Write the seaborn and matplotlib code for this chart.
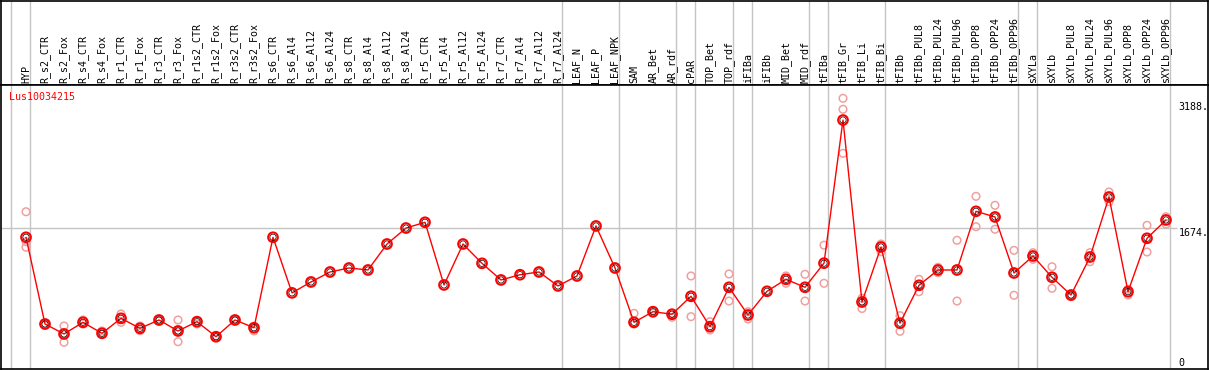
import numpy as np
import pandas as pd
import matplotlib
matplotlib.use("Agg")
import matplotlib.pyplot as plt
import seaborn as sns

categories = ["HYP", "R_s2_CTR", "R_s2_Fox", "R_s4_CTR", "R_s4_Fox", "R_r1_CTR", "R_r1_Fox",
              "R_r3_CTR", "R_r3_Fox", "R_r1s2_CTR", "R_r1s2_Fox", "R_r3s2_CTR", "R_r3s2_Fox",
              "R_s6_CTR", "R_s6_Al4", "R_s6_Al12", "R_s6_Al24", "R_s8_CTR", "R_s8_Al4", "R_s8_Al12",
              "R_s8_Al24", "R_r5_CTR", "R_r5_Al4", "R_r5_Al12", "R_r5_Al24", "R_r7_CTR", "R_r7_Al4",
              "R_r7_Al12", "R_r7_Al24", "LEAF_N", "LEAF_P", "LEAF_NPK", "SAM", "AR_Bet", "AR_rdf",
              "cPAR", "TOP_Bet", "TOP_rdf", "iFIBa", "iFIBb", "MID_Bet", "MID_rdf", "tFIBa",
              "tFIB_Gr", "tFIB_Li", "tFIB_Bi", "tFIBb", "tFIBb_PUL8", "tFIBb_PUL24", "tFIBb_PUL96",
              "tFIBb_OPP8", "tFIBb_OPP24", "tFIBb_OPP96", "sXYLa", "sXYLb", "sXYLb_PUL8",
              "sXYLb_PUL24", "sXYLb_PUL96", "sXYLb_OPP8", "sXYLb_OPP24", "sXYLb_OPP96"]

mean_values = [1566, 524, 404, 544, 412, 592, 472, 572, 440, 552, 371, 572, 479,
               1566, 898, 1029, 1149, 1197, 1173, 1485, 1677, 1746, 993, 1485, 1253,
               1053, 1116, 1149, 981, 1101, 1702, 1197, 544, 672, 641, 857, 492, 965,
               632, 917, 1061, 965, 1255, 2975, 788, 1449, 534, 989, 1173, 1173, 1878,
               1810, 1137, 1341, 1085, 872, 1329, 2050, 912, 1554, 1774]

nan = np.nan
rep_a = [1873, 524, 500, 572, 440, 644, 500, 572, 572, 563, 380, 580, 472,
         nan, nan, nan, nan, nan, nan, nan, nan, nan, nan, nan, nan,
         nan, nan, nan, nan, nan, nan, nan, 652, 684, 652, 1101, 552, 1125,
         672, nan, 1101, 1121, 1471, 3236, 833, 1485, 624, 1061, 1205, 1530, 2058,
         1950, 1409, 1381, 1212, 852, 1381, 2110, 941, 1710, 1813]
rep_b = [1513, 508, 404, 524, 404, 544, 443, 560, 440, 524, 361, 563, 440,
         nan, nan, nan, nan, nan, nan, nan, nan, nan, nan, nan, nan,
         nan, nan, nan, nan, nan, nan, nan, 524, 652, 604, 612, 452, 800,
         584, nan, 1013, 800, 1013, 3104, 800, 1393, 436, 912, 1140, 800, 1693,
         1662, 869, 1301, 953, 872, 1272, 1993, 872, 1389, 1725]
rep_c = [1446, nan, 304, nan, nan, nan, nan, nan, 311, nan, nan, nan, nan,
         nan, nan, nan, nan, nan, nan, nan, nan, nan, nan, nan, nan,
         nan, nan, nan, nan, nan, nan, nan, nan, nan, nan, nan, nan, nan,
         nan, nan, nan, nan, nan, 2575, 710, nan, nan, nan, nan, nan, nan,
         nan, nan, nan, nan, nan, nan, nan, nan, nan, nan]

separators = [0, 1, 29, 32, 35, 36, 38, 39, 42, 43, 46, 53, 54, 61]
ref_value = 1674
axis_values = [3188, 1674, 0]
axis_labels = ["3188.", "1674.", "0"]
gene_name = "Lus10034215"

sns.set_style("white")
plt.rcParams["font.family"] = ["DejaVu Sans Mono", "DejaVu Sans"]

W, H = 1209, 370
fig = plt.figure(figsize=(W / 100, H / 100), dpi=100)
ax_lab = fig.add_axes([1 / W, (H - 85) / H, 1207 / W, 84.5 / H])
ax = fig.add_axes([1 / W, (H - 369) / H, 1207 / W, 284 / H], sharex=ax_lab)

xpos = np.arange(len(categories))
means_df = pd.DataFrame({"x": xpos, "value": mean_values})
reps_df = pd.DataFrame({"x": np.concatenate([xpos, xpos, xpos]),
                        "value": np.concatenate([rep_a, rep_b, rep_c])}).dropna()

xmin, xmax = (1 - 26) / 19, (1208 - 26) / 19
ax.set_xlim(xmin, xmax)
ax.set_ylim(-17, 3396)
ax_lab.set_ylim(0, 1)

gray = "#c4c4c4"
for k in separators:
    for a in (ax, ax_lab):
        a.axvline(k - 15 / 19, color=gray, lw=1.0, zorder=0)
ax.hlines(ref_value, xmin, (1177 - 26) / 19, color=gray, lw=1.0, zorder=0)

sns.scatterplot(data=reps_df, x="x", y="value", ax=ax, marker="o", s=30,
                facecolor="none", edgecolor="#f0a0a0", linewidth=1.1, zorder=2, legend=False)
sns.lineplot(data=means_df, x="x", y="value", ax=ax, color="#ff0000", lw=1.0,
             zorder=3, legend=False)
sns.scatterplot(data=means_df, x="x", y="value", ax=ax, marker="o", s=48,
                facecolor="none", edgecolor="#ff0000", linewidth=1.5, zorder=4, legend=False)
sns.scatterplot(data=means_df, x="x", y="value", ax=ax, marker="o", s=20,
                facecolor="none", edgecolor="#000000", linewidth=0.5, zorder=5, legend=False)

for i, lab in enumerate(categories):
    ax_lab.text(i, 0.02, lab, rotation=90, ha="center", va="bottom", fontsize=7.2,
                color="black")

for v, t in zip(axis_values, axis_labels):
    ax.text(0.9755, v, t, transform=ax.get_yaxis_transform(), ha="left",
            va="bottom" if v == 0 else "top", fontsize=7.2, color="black")

ax.text(0.0068, 0.958, gene_name, transform=ax.transAxes, ha="left", va="center",
        fontsize=7.2, color="#ff0000")

for a in (ax, ax_lab):
    a.set_xticks([])
    a.set_yticks([])
    a.set_xlabel("")
    a.set_ylabel("")
    for s in a.spines.values():
        s.set_visible(True)
        s.set_color("black")
        s.set_linewidth(1.2)

fig.savefig("out.png", dpi=100)
